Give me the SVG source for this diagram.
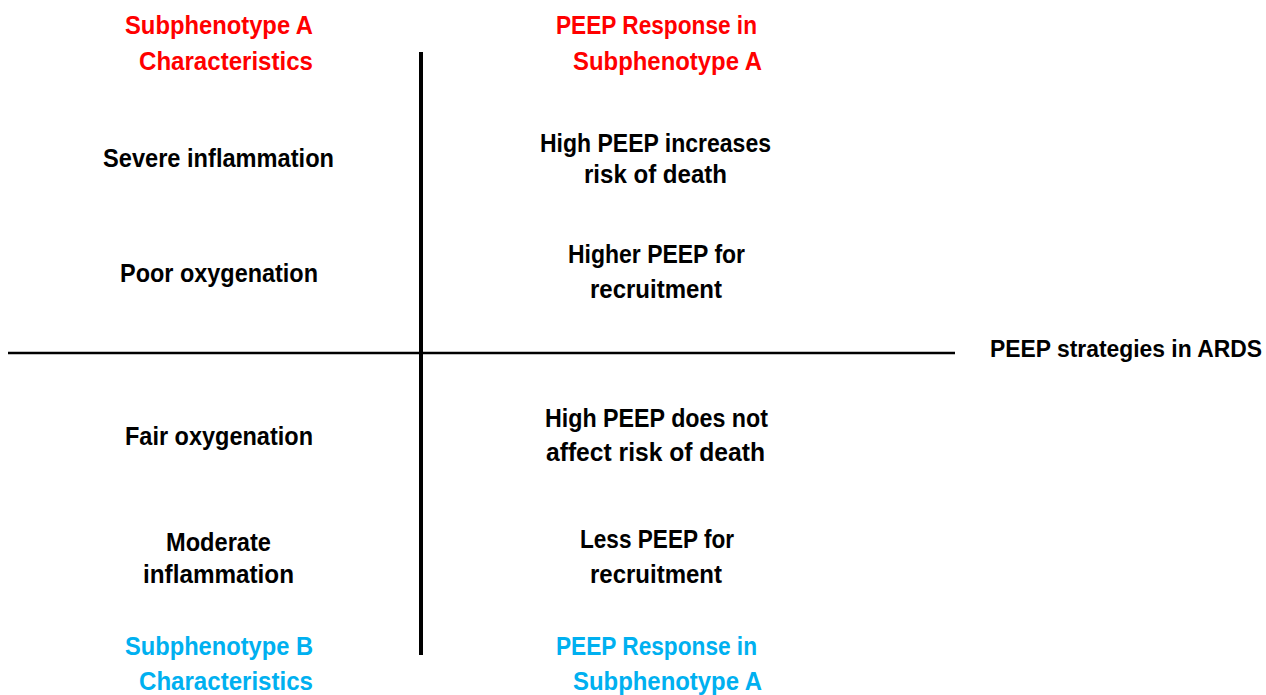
<svg xmlns="http://www.w3.org/2000/svg" width="1266" height="695" viewBox="0 0 1266 695">
  <style>
    text { font-family: "Liberation Sans", Arial, sans-serif; font-weight: bold; font-size: 25px; fill: #000; }
    .red { fill: #FF0000; }
    .blue { fill: #00B0F0; }
    .axis { stroke: #000; fill: none; }
    .caption { font-size: 23px; }
  </style>
  <rect width="1266" height="695" fill="#fff"/>

  <!-- quadrant axes -->
  <g id="connectors">
    <line class="axis" x1="421" y1="52" x2="421" y2="655" stroke-width="4"/>
    <line class="axis" x1="8" y1="353" x2="955" y2="353" stroke-width="2.6"/>
  </g>

  <g id="header-a-characteristics">
    <text class="red" x="125" y="34" textLength="188" lengthAdjust="spacingAndGlyphs">Subphenotype A</text>
    <text class="red" x="139" y="70" textLength="174" lengthAdjust="spacingAndGlyphs">Characteristics</text>
  </g>
  <g id="header-a-response">
    <text class="red" x="556" y="34" textLength="201" lengthAdjust="spacingAndGlyphs">PEEP Response in</text>
    <text class="red" x="573" y="70" textLength="189" lengthAdjust="spacingAndGlyphs">Subphenotype A</text>
  </g>

  <g id="severe-inflammation">
    <text x="103" y="167" textLength="231" lengthAdjust="spacingAndGlyphs">Severe inflammation</text>
  </g>
  <g id="high-peep-increases">
    <text x="540" y="152" textLength="231" lengthAdjust="spacingAndGlyphs">High PEEP increases</text>
    <text x="584" y="183" textLength="143" lengthAdjust="spacingAndGlyphs">risk of death</text>
  </g>
  <g id="poor-oxygenation">
    <text x="120" y="282" textLength="198" lengthAdjust="spacingAndGlyphs">Poor oxygenation</text>
  </g>
  <g id="higher-peep">
    <text x="568" y="263" textLength="177" lengthAdjust="spacingAndGlyphs">Higher PEEP for</text>
    <text x="590" y="298" textLength="132" lengthAdjust="spacingAndGlyphs">recruitment</text>
  </g>

  <!-- axis caption, anchored at its right end so it stays inside the canvas -->
  <g id="axis-label">
    <text class="caption" x="1262" y="357" text-anchor="end" textLength="272" lengthAdjust="spacingAndGlyphs">PEEP strategies in ARDS</text>
  </g>

  <g id="fair-oxygenation">
    <text x="125" y="445" textLength="188" lengthAdjust="spacingAndGlyphs">Fair oxygenation</text>
  </g>
  <g id="high-peep-no-effect">
    <text x="545" y="427" textLength="223" lengthAdjust="spacingAndGlyphs">High PEEP does not</text>
    <text x="546" y="461" textLength="219" lengthAdjust="spacingAndGlyphs">affect risk of death</text>
  </g>
  <g id="moderate-inflammation">
    <text x="166" y="551" textLength="105" lengthAdjust="spacingAndGlyphs">Moderate</text>
    <text x="143" y="583" textLength="151" lengthAdjust="spacingAndGlyphs">inflammation</text>
  </g>
  <g id="less-peep">
    <text x="580" y="548" textLength="154" lengthAdjust="spacingAndGlyphs">Less PEEP for</text>
    <text x="590" y="583" textLength="132" lengthAdjust="spacingAndGlyphs">recruitment</text>
  </g>

  <g id="header-b-characteristics">
    <text class="blue" x="125" y="655" textLength="188" lengthAdjust="spacingAndGlyphs">Subphenotype B</text>
    <text class="blue" x="139" y="690" textLength="174" lengthAdjust="spacingAndGlyphs">Characteristics</text>
  </g>
  <g id="header-b-response">
    <text class="blue" x="556" y="655" textLength="201" lengthAdjust="spacingAndGlyphs">PEEP Response in</text>
    <text class="blue" x="573" y="690" textLength="189" lengthAdjust="spacingAndGlyphs">Subphenotype A</text>
  </g>
</svg>
